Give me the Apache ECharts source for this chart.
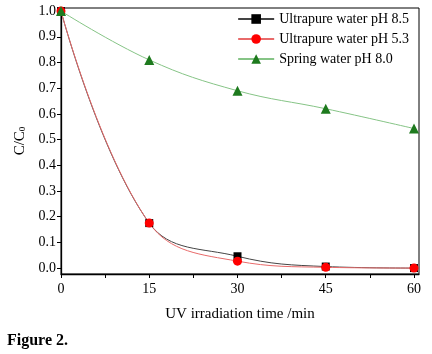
<!DOCTYPE html>
<html>
<head>
<meta charset="utf-8">
<script src="https://cdn.jsdelivr.net/npm/echarts@6/dist/echarts.min.js"></script>
<style>
  html, body { margin: 0; padding: 0; background: #fff; }
  #chart { width: 432px; height: 354px; }
</style>
</head>
<body>
<div id="chart"></div>
<script>
// irradiation time (min)
var times = [0, 15, 30, 45, 60];
var ultrapure85 = [1.0, 0.175, 0.046, 0.006, 0.0];
var ultrapure53 = [1.0, 0.175, 0.027, 0.003, 0.0];
var spring80 = [1.0, 0.81, 0.69, 0.62, 0.543];
var yTicks = [0, 0.1, 0.2, 0.3, 0.4, 0.5, 0.6, 0.7, 0.8, 0.9, 1.0];

var font = 'Liberation Serif';

function pairs(arr) {
  return times.map(function (t, i) { return [t, arr[i]]; });
}

var myChart = echarts.init(document.getElementById('chart'));
var option = {
  animation: false,
  textStyle: { fontFamily: font },
  grid: {
    left: 61, right: 13, top: 8, bottom: 80,
    show: true, borderColor: '#000', borderWidth: 1
  },
  legend: {
    orient: 'vertical',
    right: 18, top: 7,
    itemWidth: 36, itemHeight: 12, itemGap: 6,
    textStyle: { fontFamily: font, fontSize: 14, color: '#000' },
    data: ['Ultrapure water pH 8.5', 'Ultrapure water pH 5.3', 'Spring water pH 8.0']
  },
  xAxis: {
    type: 'value',
    min: 0, max: 60.85, interval: 7.5,
    name: 'UV irradiation time /min',
    nameLocation: 'middle', nameGap: 33,
    nameTextStyle: { fontFamily: font, fontSize: 15, color: '#000' },
    axisLine: { onZero: false, lineStyle: { color: '#000', width: 1.3 } },
    axisTick: { show: true, length: 4, lineStyle: { color: '#000' } },
    axisLabel: {
      color: '#000', fontFamily: font, fontSize: 14, margin: 8,
      showMaxLabel: false,
      formatter: function (v) { return v % 15 === 0 ? String(v) : ''; }
    },
    splitLine: { show: false }
  },
  yAxis: {
    type: 'value',
    min: -0.023, max: 1.012,
    name: 'C/C{s|0}',
    nameLocation: 'middle', nameGap: 33, nameRotate: 90,
    nameTextStyle: {
      fontFamily: font, fontSize: 15, color: '#000',
      rich: { s: { fontFamily: font, fontSize: 9, verticalAlign: 'bottom', padding: [6, 0, 0, 0] } }
    },
    axisLine: { show: true, onZero: false, lineStyle: { color: '#000', width: 1.3 } },
    axisTick: { show: true, length: 4, customValues: yTicks, lineStyle: { color: '#000' } },
    axisLabel: {
      color: '#000', fontFamily: font, fontSize: 14, margin: 5,
      customValues: yTicks,
      formatter: function (v) { return v.toFixed(1); }
    },
    splitLine: { show: false }
  },
  series: [
    {
      name: 'Ultrapure water pH 8.5',
      type: 'line',
      smooth: 0.4,
      symbol: 'rect', symbolSize: 8,
      itemStyle: { color: '#000' },
      lineStyle: { color: '#444', width: 1 },
      data: pairs(ultrapure85)
    },
    {
      name: 'Ultrapure water pH 5.3',
      type: 'line',
      smooth: 0.4,
      symbol: 'circle', symbolSize: 9,
      itemStyle: { color: '#ff0000' },
      lineStyle: { color: '#e86a6a', width: 1 },
      data: pairs(ultrapure53)
    },
    {
      name: 'Spring water pH 8.0',
      type: 'line',
      smooth: 0.4,
      symbol: 'triangle', symbolSize: 10,
      itemStyle: { color: '#1e7a1e' },
      lineStyle: { color: '#86c486', width: 1 },
      data: pairs(spring80)
    }
  ],
  graphic: [{
    type: 'text',
    left: 7, top: 333,
    style: { text: 'Figure 2.', fontFamily: font, fontSize: 16, fontWeight: 'bold', fill: '#000' }
  }]
};
myChart.setOption(option);
</script>
</body>
</html>
